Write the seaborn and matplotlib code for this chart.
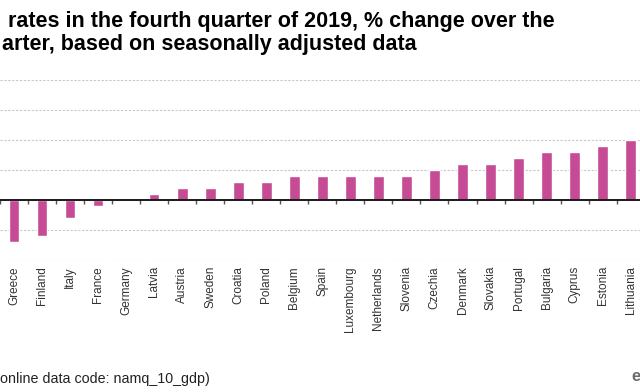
import numpy as np
import pandas as pd
import matplotlib
matplotlib.use("Agg")
import matplotlib.pyplot as plt
import seaborn as sns

# ---- data ----
countries = ["Greece", "Finland", "Italy", "France", "Germany", "Latvia", "Austria",
             "Sweden", "Croatia", "Poland", "Belgium", "Spain", "Luxembourg",
             "Netherlands", "Slovenia", "Czechia", "Denmark", "Slovakia", "Portugal",
             "Bulgaria", "Cyprus", "Estonia", "Lithuania"]
growth = [-0.7, -0.6, -0.3, -0.1, 0.0, 0.1, 0.2, 0.2, 0.3, 0.3, 0.4, 0.4, 0.4,
          0.4, 0.4, 0.5, 0.6, 0.6, 0.7, 0.8, 0.8, 0.9, 1.0]
y_ticks = [-1.0, -0.5, 0.0, 0.5, 1.0, 1.5, 2.0]
# visible (cropped) parts of the title, source line and logo
title_lines = ["rates in the fourth quarter of 2019, % change over the",
               "arter, based on seasonally adjusted data"]
source_text = "online data code: namq_10_gdp)"
logo_text = "e"

sns.set_style("white")
plt.rcParams["font.family"] = ["Liberation Sans", "DejaVu Sans"]

W, H = 640, 392
fig = plt.figure(figsize=(W / 100, H / 100), dpi=100)
ax = fig.add_axes([0 / W, (H - 260.5) / H, 644.7 / W, 180.5 / H])

df = pd.DataFrame({"country": countries, "growth": growth})
sns.barplot(data=df, x="country", y="growth", order=countries, color="#c64b95",
            saturation=1, width=0.38, ax=ax)

ax.set_ylim(y_ticks[0], y_ticks[-1])
ax.set_xlim(-0.5, len(countries) - 0.5)
ax.set_yticks(y_ticks)
ax.yaxis.grid(True, color="#c8c8c8", linestyle=(0, (2, 1.5)), linewidth=0.8)
ax.xaxis.grid(False)
ax.set_axisbelow(True)
ax.tick_params(axis="y", left=False, labelleft=False)
for s in ["top", "right", "left"]:
    ax.spines[s].set_visible(False)
ax.spines["bottom"].set_position(("data", 0))
ax.spines["bottom"].set_color("#1a1a1a")
ax.spines["bottom"].set_linewidth(1.4)
ax.set_xticks(np.arange(-0.5, len(countries)))
ax.tick_params(axis="x", bottom=True, length=3, width=1, color="#555555",
               labelbottom=False, direction="out")
ax.set_xlabel("")
ax.set_ylabel("")

sec = ax.secondary_xaxis(0.0)
sec.set_xticks(range(len(countries)), labels=countries, rotation=90)
sec.tick_params(length=0, pad=4, labelsize=8.5, labelcolor="#333333")
for s in sec.spines.values():
    s.set_visible(False)

# ---- texts ----
tkw = dict(fontsize=15.5, fontweight="bold", color="black")
fig.text(8 / W, 1 - 26.7 / H, title_lines[0], ha="left", va="baseline", **tkw)
fig.text(2 / W, 1 - 50.0 / H, title_lines[1], ha="left", va="baseline", **tkw)

fig.text(0.5 / W, 1 - 383 / H, source_text, ha="left", va="baseline",
         fontsize=10.3, color="#222222")

fig.text(631.5 / W, 1 - 381 / H, logo_text, ha="left", va="baseline",
         fontsize=12, fontweight="bold", color="#6b6b6b")

fig.savefig("out.png", dpi=100)
